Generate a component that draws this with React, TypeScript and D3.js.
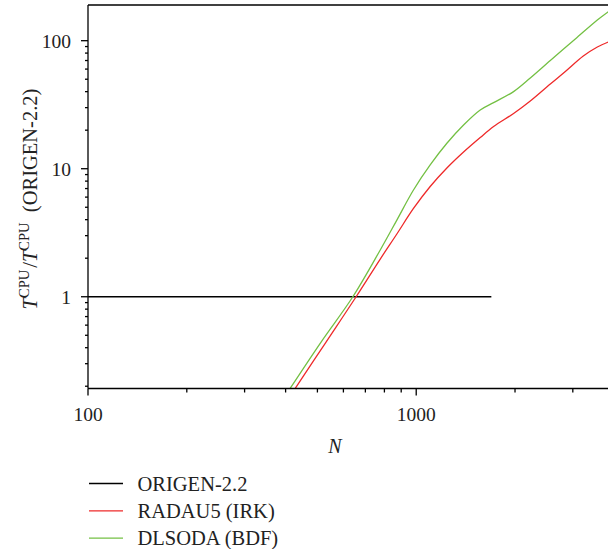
import React, { useRef, useEffect } from 'react';
import * as d3 from 'd3';

// N (number of nuclides) vs CPU time ratio
const origenN = [100, 1694];
const origenT = [1, 1];

const radauN = [428, 530, 656, 777, 873, 981, 1103, 1240, 1394, 1567, 1721, 1980, 2226, 2562, 2847, 3229, 3563, 3849];
const radauT = [0.1925, 0.439, 1, 1.97, 3.09, 4.89, 7.26, 10.13, 13.51, 17.53, 21.37, 27.0, 33.8, 45.9, 57.5, 75.9, 89.3, 97.7];

const dlsodaN = [413, 513, 641, 777, 873, 981, 1103, 1240, 1394, 1567, 1721, 1980, 2226, 2562, 3053, 3563, 3849];
const dlsodaT = [0.1925, 0.443, 1, 2.32, 3.97, 6.82, 10.7, 15.8, 21.95, 28.75, 32.8, 40.0, 51.1, 70.0, 103.1, 145.1, 168.5];

const xTickLabels = [100, 1000];
const yTickLabels = [1, 10, 100];

const seriesNames = ['ORIGEN-2.2', 'RADAU5 (IRK)', 'DLSODA (BDF)'];
const colors = ['#000000', '#ee2a2a', '#74c044'];

const width = 608;
const height = 549;
const left = 88;
const right = 608;
const top = 5;
const bottom = 388.5;

const App = () => {
  const svgRef = useRef(null);

  useEffect(() => {
    const svg = d3.select(svgRef.current);
    svg.selectAll('*').remove();

    const x = d3.scaleLog().domain([100, 3840]).range([left, right]);
    const y = d3.scaleLog().domain([0.192, 190]).range([bottom, top]);

    svg
      .append('defs')
      .append('clipPath')
      .attr('id', 'plot-clip')
      .append('rect')
      .attr('x', left)
      .attr('y', top)
      .attr('width', right - left)
      .attr('height', bottom - top);

    const line = d3
      .line()
      .x((d) => x(d[0]))
      .y((d) => y(d[1]))
      .curve(d3.curveCatmullRom.alpha(0.5));

    const series = [
      d3.zip(origenN, origenT),
      d3.zip(radauN, radauT),
      d3.zip(dlsodaN, dlsodaT),
    ];

    svg
      .append('g')
      .attr('clip-path', 'url(#plot-clip)')
      .selectAll('path')
      .data(series)
      .join('path')
      .attr('d', line)
      .attr('fill', 'none')
      .attr('stroke', (d, i) => colors[i])
      .attr('stroke-width', 1.3);

    const axis = svg.append('g').attr('stroke', '#000').attr('stroke-width', 1.3);
    axis.append('line').attr('x1', left).attr('x2', left).attr('y1', top).attr('y2', bottom);
    axis.append('line').attr('x1', left).attr('x2', right).attr('y1', bottom).attr('y2', bottom);
    axis.append('line').attr('x1', left).attr('x2', right).attr('y1', top).attr('y2', top);

    // y ticks
    const yTicks = y.ticks().filter((t) => t >= 0.2 && t <= 190);
    axis
      .selectAll('.ytick')
      .data(yTicks)
      .join('line')
      .attr('x1', (d) => (yTickLabels.includes(d) ? left - 7 : left - 3))
      .attr('x2', left)
      .attr('y1', (d) => y(d))
      .attr('y2', (d) => y(d));

    // x ticks
    const xTicks = x.ticks().filter((t) => t >= 100 && t <= 3840);
    axis
      .selectAll('.xtick')
      .data(xTicks)
      .join('line')
      .attr('x1', (d) => x(d))
      .attr('x2', (d) => x(d))
      .attr('y1', bottom)
      .attr('y2', (d) => (xTickLabels.includes(d) ? bottom + 7 : bottom + 4));

    const font = '"Liberation Serif", "DejaVu Serif", serif';

    svg
      .append('g')
      .selectAll('text')
      .data(yTickLabels)
      .join('text')
      .attr('x', left - 17)
      .attr('y', (d) => y(d))
      .attr('dy', '0.35em')
      .attr('text-anchor', 'end')
      .attr('font-family', font)
      .attr('font-size', 19.5)
      .attr('fill', '#222')
      .text((d) => d);

    svg
      .append('g')
      .selectAll('text')
      .data(xTickLabels)
      .join('text')
      .attr('x', (d) => x(d))
      .attr('y', 421)
      .attr('text-anchor', 'middle')
      .attr('font-family', font)
      .attr('font-size', 19.5)
      .attr('fill', '#222')
      .text((d) => d);

    svg
      .append('text')
      .attr('x', 335)
      .attr('y', 453)
      .attr('text-anchor', 'middle')
      .attr('font-family', font)
      .attr('font-style', 'italic')
      .attr('font-size', 20)
      .attr('fill', '#222')
      .text('N');

    const ylab = svg
      .append('text')
      .attr('transform', `translate(37,199) rotate(-90)`)
      .attr('text-anchor', 'middle')
      .attr('font-family', font)
      .attr('font-size', 20.5)
      .attr('fill', '#222');
    ylab.append('tspan').attr('font-style', 'italic').text('T');
    ylab.append('tspan').attr('font-size', 14.5).attr('dy', -8).text('CPU');
    ylab.append('tspan').attr('dy', 8).attr('dx', 2).text('/');
    ylab.append('tspan').attr('font-style', 'italic').text('T');
    ylab.append('tspan').attr('font-size', 14.5).attr('dy', -8).text('CPU');
    ylab.append('tspan').attr('dy', 8).text('\u2002(ORIGEN-2.2)');

    const legend = svg
      .append('g')
      .selectAll('g')
      .data(seriesNames)
      .join('g')
      .attr('transform', (d, i) => `translate(89,${483.5 + i * 27.3})`);
    legend
      .append('line')
      .attr('x1', 0)
      .attr('x2', 34)
      .attr('stroke', (d, i) => colors[i])
      .attr('stroke-width', 1.3);
    legend
      .append('text')
      .attr('x', 48.5)
      .attr('y', 0)
      .attr('dy', '0.35em')
      .attr('font-family', font)
      .attr('font-size', 20.5)
      .attr('fill', '#222')
      .text((d) => d);
  }, []);

  return (
    <svg
      ref={svgRef}
      width={width}
      height={height}
      style={{ position: 'absolute', left: 0, top: 0, background: '#fff' }}
    />
  );
};

export default App;
